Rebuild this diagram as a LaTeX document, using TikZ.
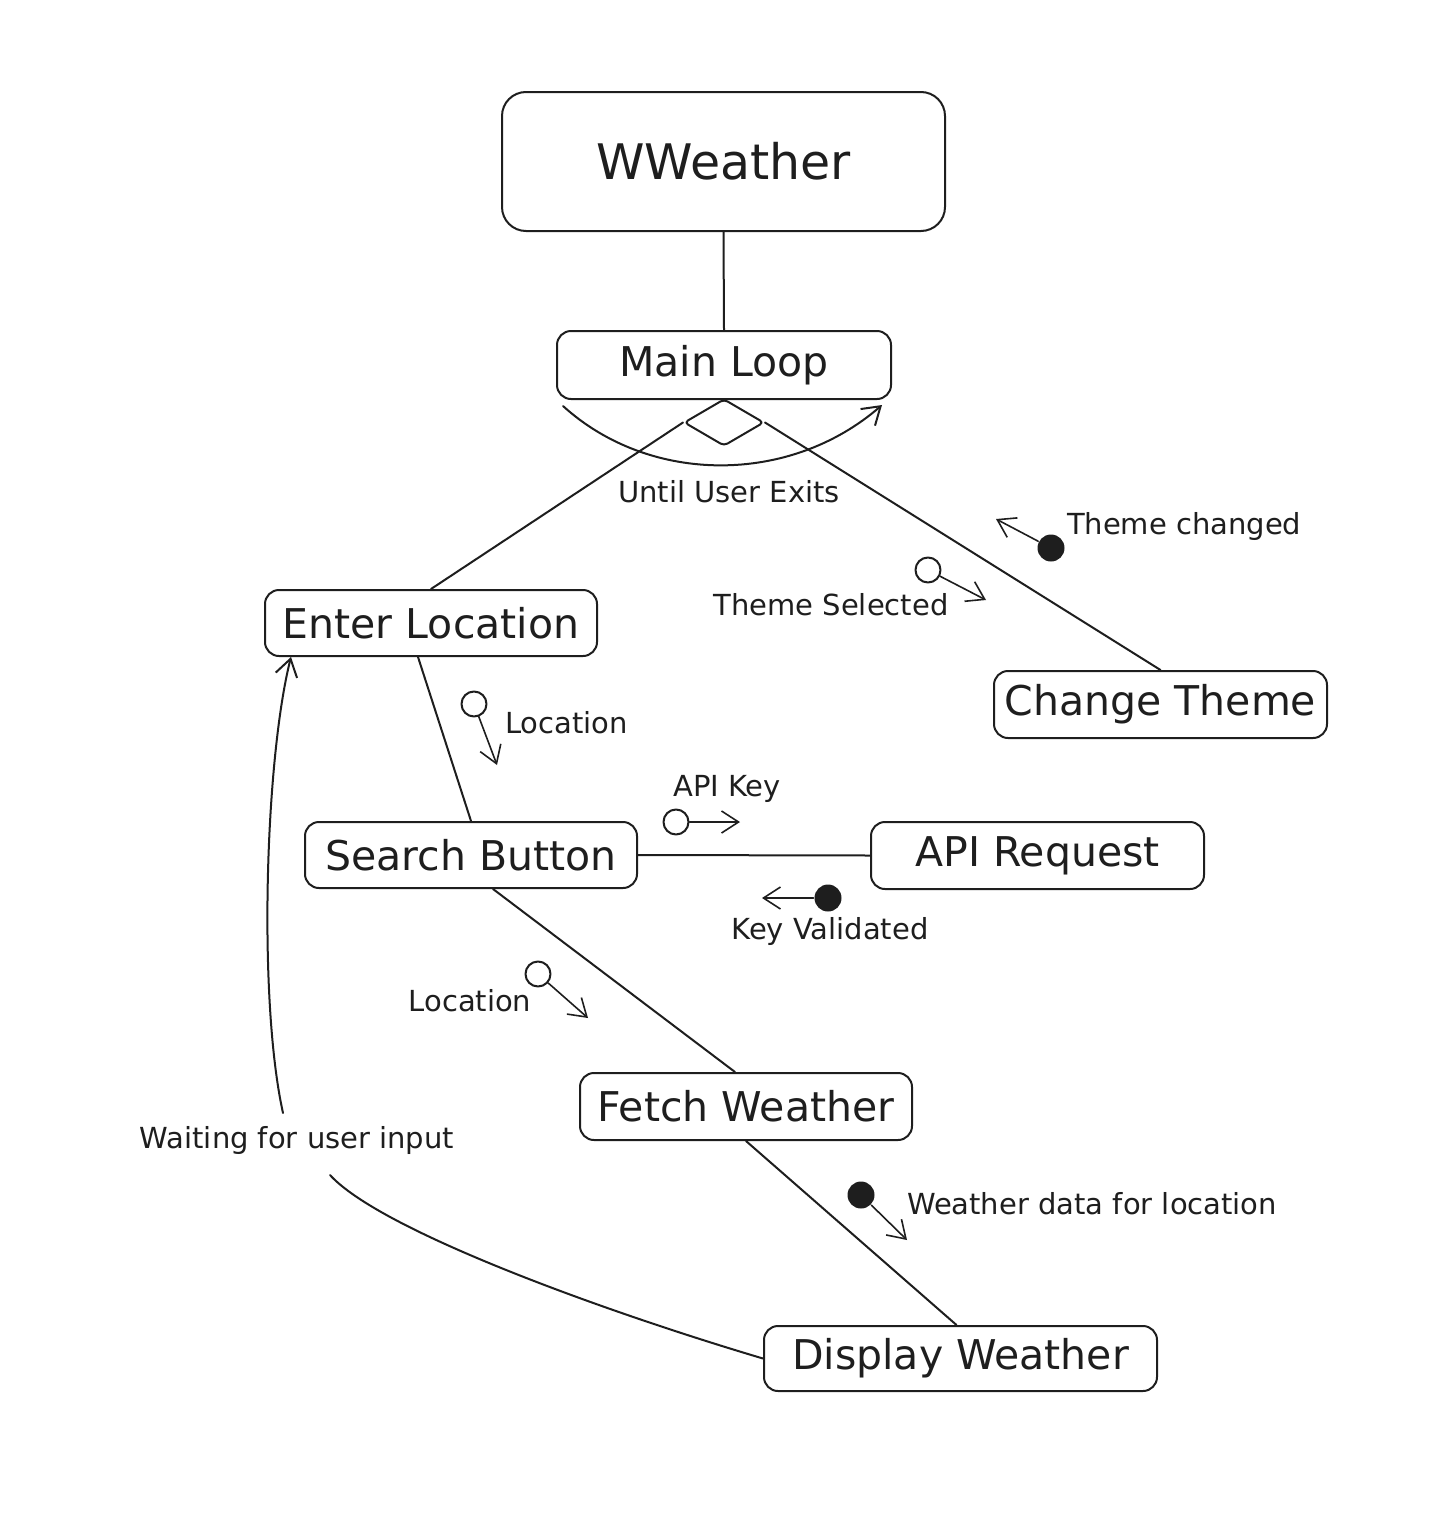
\documentclass[tikz,border=0pt]{standalone}
\usepackage{fontspec}
\setmainfont{DejaVu Sans}
\usetikzlibrary{arrows.meta,shapes.geometric}
\definecolor{ink}{HTML}{1E1E1E}

\begin{document}
\begin{tikzpicture}
            [x=1pt, y=-1pt, color=ink, line width=2pt, line cap=round, line join=round,
             >={Straight Barb[length=17pt,width=22pt]},
             box/.style={draw, rounded corners=14pt, minimum height=66pt, inner sep=0pt, font=\fontsize{41}{43}\selectfont},
             note/.style={font=\fontsize{29}{31}\selectfont, inner sep=1pt},
             openpin/.style={circle, draw, minimum size=25pt, inner sep=0pt},
             fullpin/.style={circle, fill, minimum size=27pt, inner sep=0pt},
             pinarrow/.style={->, line width=1.6pt}]
            \useasboundingbox (0,0) rectangle (1456,1523);

            \node[box, minimum width=443pt, minimum height=139pt, rounded corners=24pt, font=\fontsize{49}{51}\selectfont] (ww) at (723.5,161.5) {WWeather};
            \node[box, minimum width=334pt, minimum height=68pt] (ml) at (724,365) {Main Loop};
            \node[diamond, draw, minimum width=80pt, minimum height=47pt, inner sep=0pt, rounded corners=4pt] (dm) at (724,422.5) {};
            \node[box, minimum width=332pt] (el) at (431,623) {Enter Location};
            \node[box, minimum width=333pt, minimum height=67pt] (ct) at (1160.5,704.5) {Change Theme};
            \node[box, minimum width=332pt] (sb) at (471,855) {Search Button};
            \node[box, minimum width=333pt, minimum height=67pt] (ar) at (1037.5,855.5) {API Request};
            \node[box, minimum width=332pt, minimum height=67pt] (fw) at (746,1106.5) {Fetch Weather};
            \node[box, minimum width=393pt, minimum height=65pt] (dw) at (960.5,1358.5) {Display Weather};

            \node[note] (exits) at (729,492) {Until User Exits};
            \node[note, anchor=west] (thchg) at (1065,526) {Theme changed};
            \node[note] (thsel) at (831,605) {Theme Selected};
            \node[note, anchor=west] (loc1) at (503,723) {Location};
            \node[note] (apikey) at (727,789) {API Key};
            \node[note] (keyval) at (830,931) {Key Validated};
            \node[note] (loc2) at (470,1001) {Location};
            \node[note, anchor=west] (wdata) at (905,1204) {Weather data for location};
            \node[note] (wait) at (297,1140) {Waiting for user input};

            \node[fullpin] (p1) at (1051,548) {};
            \node[openpin] (p2) at (928,570) {};
            \node[openpin] (p3) at (474,704) {};
            \node[openpin] (p4) at (676,822) {};
            \node[fullpin] (p5) at (828,898) {};
            \node[openpin] (p6) at (538,974) {};
            \node[fullpin] (p7) at (861,1195) {};
            \coordinate (p1e) at (996,519);
            \coordinate (p2e) at (986,600);
            \coordinate (p3e) at (497,765);
            \coordinate (p4e) at (740,822);
            \coordinate (p5e) at (762,898);
            \coordinate (p6e) at (588,1018);
            \coordinate (p7e) at (907,1240);

            \coordinate (lps) at (563,406);
            \coordinate (lpe) at (882,405);
            \coordinate (waitin) at (330,1175);
            \coordinate (waitout) at (283,1113);

            \path (ww.south) edge (ml.north);
            \path (dm.west) edge (el.north);
            \path (dm.east) edge (ct.north);
            \path ([xshift=-13pt]el.south) edge (sb.north);
            \path (sb.east) edge (ar.west);
            \path ([xshift=22pt]sb.south) edge ([xshift=-11pt]fw.north);
            \path (fw.south) edge ([xshift=-4pt]dw.north);
            \draw[->] (lps) .. controls (650,485) and (790,485) .. (lpe);
            \draw (dw.west) .. controls (600,1310) and (380,1230) .. (waitin);
            \draw[->] (waitout) .. controls (258,1000) and (265,760) .. ([xshift=27pt]el.south west);

            \draw[pinarrow] (p1) -- (p1e);
            \draw[pinarrow] (p2) -- (p2e);
            \draw[pinarrow] (p3) -- (p3e);
            \draw[pinarrow] (p4) -- (p4e);
            \draw[pinarrow] (p5) -- (p5e);
            \draw[pinarrow] (p6) -- (p6e);
            \draw[pinarrow] (p7) -- (p7e);
        \end{tikzpicture}
\end{document}
